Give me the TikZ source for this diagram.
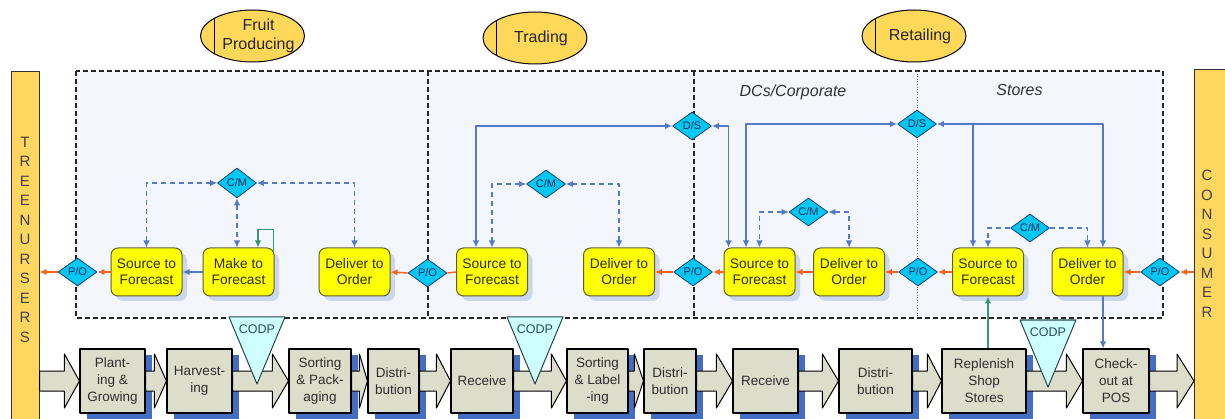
\documentclass[tikz,border=0pt]{standalone}
\usepackage{fontspec}
\setmainfont{Liberation Sans}
\usetikzlibrary{shapes.geometric,arrows.meta,calc,shadows}
\definecolor{ylw}{RGB}{255,255,0}
\definecolor{ybord}{RGB}{95,95,55}
\definecolor{ytext}{RGB}{45,45,20}
\definecolor{yshadow}{RGB}{205,215,235}
\definecolor{dcyan}{RGB}{0,200,245}
\definecolor{dborder}{RGB}{25,65,105}
\definecolor{dtext}{RGB}{20,45,90}
\definecolor{procgray}{RGB}{221,221,204}
\definecolor{proctext}{RGB}{45,45,45}
\definecolor{procshadow}{RGB}{68,110,196}
\definecolor{phasegold}{RGB}{255,216,90}
\definecolor{bargold}{RGB}{255,214,95}
\definecolor{linkblue}{RGB}{84,122,198}
\definecolor{poorange}{RGB}{252,100,30}
\definecolor{repgreen}{RGB}{55,150,110}
\definecolor{codpcyan}{RGB}{206,255,255}
\definecolor{codpborder}{RGB}{40,70,80}
\definecolor{codptext}{RGB}{40,75,95}
\definecolor{areafill}{RGB}{243,246,252}
\newcommand{\bigarrow}[3]{\draw[blockarrow] ($(#1)+(0,-10)$) -- ($(#2)+(-#3,-10)$) -- ($(#2)+(-#3,-27)$) -- (#2) -- ($(#2)+(-#3,27)$) -- ($(#2)+(-#3,10)$) -- ($(#1)+(0,10)$) -- cycle;}
\begin{document}
\begin{tikzpicture}[x=1pt,y=-1pt,line join=round,>={Latex[length=7pt,width=6.5pt]},
yellowbox/.style={draw=ybord,fill=ylw,rounded corners=7pt,line width=1pt,minimum width=71pt,minimum height=48pt,inner sep=0pt,align=center,font=\fontsize{13.8}{16}\selectfont,text=ytext,drop shadow={shadow xshift=5pt,shadow yshift=-5pt,fill=yshadow,opacity=1}},
diam/.style={diamond,draw=dborder,fill=dcyan,line width=0.8pt,aspect=1.4,inner sep=0pt,minimum width=39pt,minimum height=28pt,font=\fontsize{11}{12}\selectfont,text=dtext},
proc/.style={draw=black,fill=procgray,line width=1.1pt,inner sep=0pt,minimum height=64pt,align=center,font=\fontsize{13.5}{17}\selectfont,text=proctext,drop shadow={shadow xshift=7pt,shadow yshift=-6pt,fill=procshadow,opacity=1}},
blockarrow/.style={draw=black,fill=procgray,line width=1pt},
phase/.style={ellipse,draw=black,fill=phasegold,line width=1pt,minimum width=104pt,minimum height=52pt},
phasetext/.style={align=center,font=\fontsize{16}{19}\selectfont,text=black!85},
bar/.style={draw=black!80,fill=bargold,line width=1pt,minimum width=28pt,inner sep=0pt},
bartext/.style={align=center,font=\fontsize{15}{19.5}\selectfont,text=black!75},
grouplabel/.style={font=\fontsize{16}{18}\selectfont\itshape,text=black!80},
areabox/.style={draw=black!85,fill=areafill,line width=1.2pt,dash pattern=on 5pt off 3pt},
divider/.style={draw=black!85,line width=1.2pt,dash pattern=on 5pt off 3pt},
subdivider/.style={draw=black!60,line width=0.6pt,dotted},
blueline/.style={draw=linkblue,line width=1.5pt},
bluedash/.style={draw=linkblue,line width=1.2pt,dash pattern=on 5pt off 4pt},
orangeline/.style={draw=poorange,line width=1.5pt},
greenline/.style={draw=repgreen,line width=1.5pt},
codp/.style={draw=codpborder,fill=codpcyan,line width=1pt},
codplabel/.style={font=\fontsize{12.5}{14}\selectfont,text=codptext}]
\useasboundingbox (0,0) rectangle (1225,419);
\clip (0,0) rectangle (1225,419);
\draw[areabox] (76,71) rectangle (1163,318);
\draw[divider] (428,71) -- (428,318);
\draw[divider] (694,71) -- (694,318);
\draw[subdivider] (917,71) -- (917,318);
\node[grouplabel] (dclabel) at (793,92) {DCs/Corporate};
\node[grouplabel] (storelabel) at (1019.5,90) {Stores};
\node[bar,minimum height=360pt,anchor=north] (tree) at (25,71) {};
\node[bartext] (treetxt) at (25,239.5) {T\\R\\E\\E\\N\\U\\R\\S\\E\\R\\S};
\node[bar,minimum width=36pt,minimum height=360pt,anchor=north west] (cons) at (1194,69) {};
\node[bartext] (constxt) at (1207,244) {C\\O\\N\\S\\U\\M\\E\\R};
\foreach \n/\x/\y/\t in {fruit/252.5/36/{Fruit\\Producing},trade/535/38/Trading,retail/914/36/Retailing}{
\node[phase] (\n) at (\x,\y) {};
\draw[line width=1pt] ([xshift=-38.5pt,yshift=17pt]\n.center) -- ([xshift=-38.5pt,yshift=-17pt]\n.center);
\node[phasetext] (\n txt) at ([xshift=6pt]\n.center) {\t};}
\node[diam] (po1) at (77.5,272) {P/O};
\node[yellowbox] (sf1) at (146.5,272) {Source to\\Forecast};
\node[yellowbox] (mf) at (238.5,272) {Make to\\Forecast};
\node[yellowbox] (do1) at (354.5,272) {Deliver to\\Order};
\node[diam,minimum height=30pt] (cm1) at (237,183) {C/M};
\node[diam] (po2) at (427.5,273) {P/O};
\node[yellowbox] (sf2) at (492,272) {Source to\\Forecast};
\node[yellowbox] (do2) at (619,272) {Deliver to\\Order};
\node[diam] (cm2) at (546,184) {C/M};
\node[diam] (ds1) at (692,126) {D/S};
\node[diam] (po3) at (693,272) {P/O};
\node[yellowbox] (sf3) at (759.5,272) {Source to\\Forecast};
\node[yellowbox] (do3) at (849,272) {Deliver to\\Order};
\node[diam] (cm3) at (808.5,212) {C/M};
\node[diam] (ds2) at (917,124) {D/S};
\node[diam] (po4) at (918,272) {P/O};
\node[yellowbox] (sf4) at (988,272) {Source to\\Forecast};
\node[yellowbox] (do4) at (1087.5,272) {Deliver to\\Order};
\node[diam] (cm4) at (1030,228) {C/M};
\node[diam] (po5) at (1160,272) {P/O};
\draw[orangeline,->] (sf1.west) -- (po1.east);
\draw[orangeline,->] (po1.west) -- (po1.west -| tree.east);
\draw[blueline,->] (mf.west) -- (sf1.east);
\draw[bluedash,<->] (cm1.west) -| (sf1.north);
\draw[bluedash,<->] (cm1.south) -- (cm1.south |- mf.north);
\draw[bluedash,<->] (cm1.east) -| (do1.north);
\draw[greenline,->] ([xshift=-1pt,yshift=-4pt]mf.north east) -- ++(0,-22) -| ([xshift=19.5pt]mf.north);
\draw[orangeline,->] (po2.west) -- (do1.east);
\draw[orangeline] (sf2.west) -- (po2.east);
\draw[orangeline,->] (po3.west) -- (do2.east);
\draw[bluedash,<->] (cm2.west) -| (sf2.north);
\draw[bluedash,<->] (cm2.east) -| (do2.north);
\draw[blueline,<->] (ds1.west) -| ([xshift=-16pt]sf2.north);
\draw[orangeline,->] (sf3.west) -- (po3.east);
\draw[orangeline,->] (do3.west) -- (sf3.east);
\draw[orangeline,->] (po4.west) -- (do3.east);
\draw[bluedash,<->] (cm3.west) -| (sf3.north);
\draw[bluedash,<->] (cm3.east) -| (do3.north);
\draw[blueline,<->] (ds1.east) -| ([xshift=-31pt]sf3.north);
\draw[blueline,<->] (ds2.west) -| ([xshift=-13.5pt]sf3.north);
\draw[orangeline,->] (sf4.west) -- (po4.east);
\draw[orangeline,->] (po5.west) -- (do4.east);
\draw[orangeline,->] (po5.east -| cons.west) -- (po5.east);
\draw[bluedash,->] (cm4.west) -| (sf4.north);
\draw[bluedash,->] (cm4.east) -| (do4.north);
\coordinate (sf4in) at ([xshift=-15pt]sf4.north);
\coordinate (do4in) at ([xshift=15.5pt]do4.north);
\draw[blueline,<->] (ds2.east) -| (do4in);
\draw[blueline,->] (sf4in |- ds2.east) -- (sf4in);
\node[proc,minimum width=65pt] (p1) at (112.5,381) {Plant-\\ing \&\\Growing};
\node[proc,minimum width=65pt] (p2) at (199.5,381) {Harvest-\\ing};
\node[proc,minimum width=62pt] (p3) at (320,381) {Sorting\\\& Pack-\\aging};
\node[proc,minimum width=51pt] (p4) at (393.5,381) {Distri-\\bution};
\node[proc,minimum width=62pt] (p5) at (482,381) {Receive};
\node[proc,minimum width=61pt] (p6) at (597.5,381) {Sorting\\\& Label\\-ing};
\node[proc,minimum width=52pt] (p7) at (670,381) {Distri-\\bution};
\node[proc,minimum width=65pt] (p8) at (765.5,381) {Receive};
\node[proc,minimum width=73pt] (p9) at (875.5,381) {Distri-\\bution};
\node[proc,minimum width=84pt] (p10) at (984,381) {Replenish\\Shop\\Stores};
\node[proc,minimum width=66pt] (p11) at (1116,381) {Check-\\out at\\POS};
\coordinate (tnout) at (tree.east |- p1.west);
\coordinate (cnin) at (cons.west |- p11.east);
\foreach \a/\b/\h in {tnout/p1.west/15,p1.east/p2.west/12,p2.east/p3.west/16,p3.east/p4.west/8,p4.east/p5.west/14,p5.east/p6.west/15,p6.east/p7.west/9,p7.east/p8.west/16,p8.east/p9.west/16,p9.east/p10.west/14,p10.east/p11.west/16,p11.east/cnin/17}{\bigarrow{\a}{\b}{\h}}
\coordinate (do4out) at ([xshift=15.5pt]do4.south);
\draw[blueline,->] (do4out) -- (do4out |- p11.north);
\draw[greenline,->] (sf4.south |- p10.north) -- (sf4.south);
\foreach \n/\x/\y in {codp1/257/317,codp2/535/317,codp3/1048/320}{
\draw[codp] (\x-28,\y) -- (\x+28,\y) -- (\x,\y+67) -- cycle;
\node[codplabel] (\n) at (\x,\y+12) {CODP};}
\end{tikzpicture}
\end{document}
